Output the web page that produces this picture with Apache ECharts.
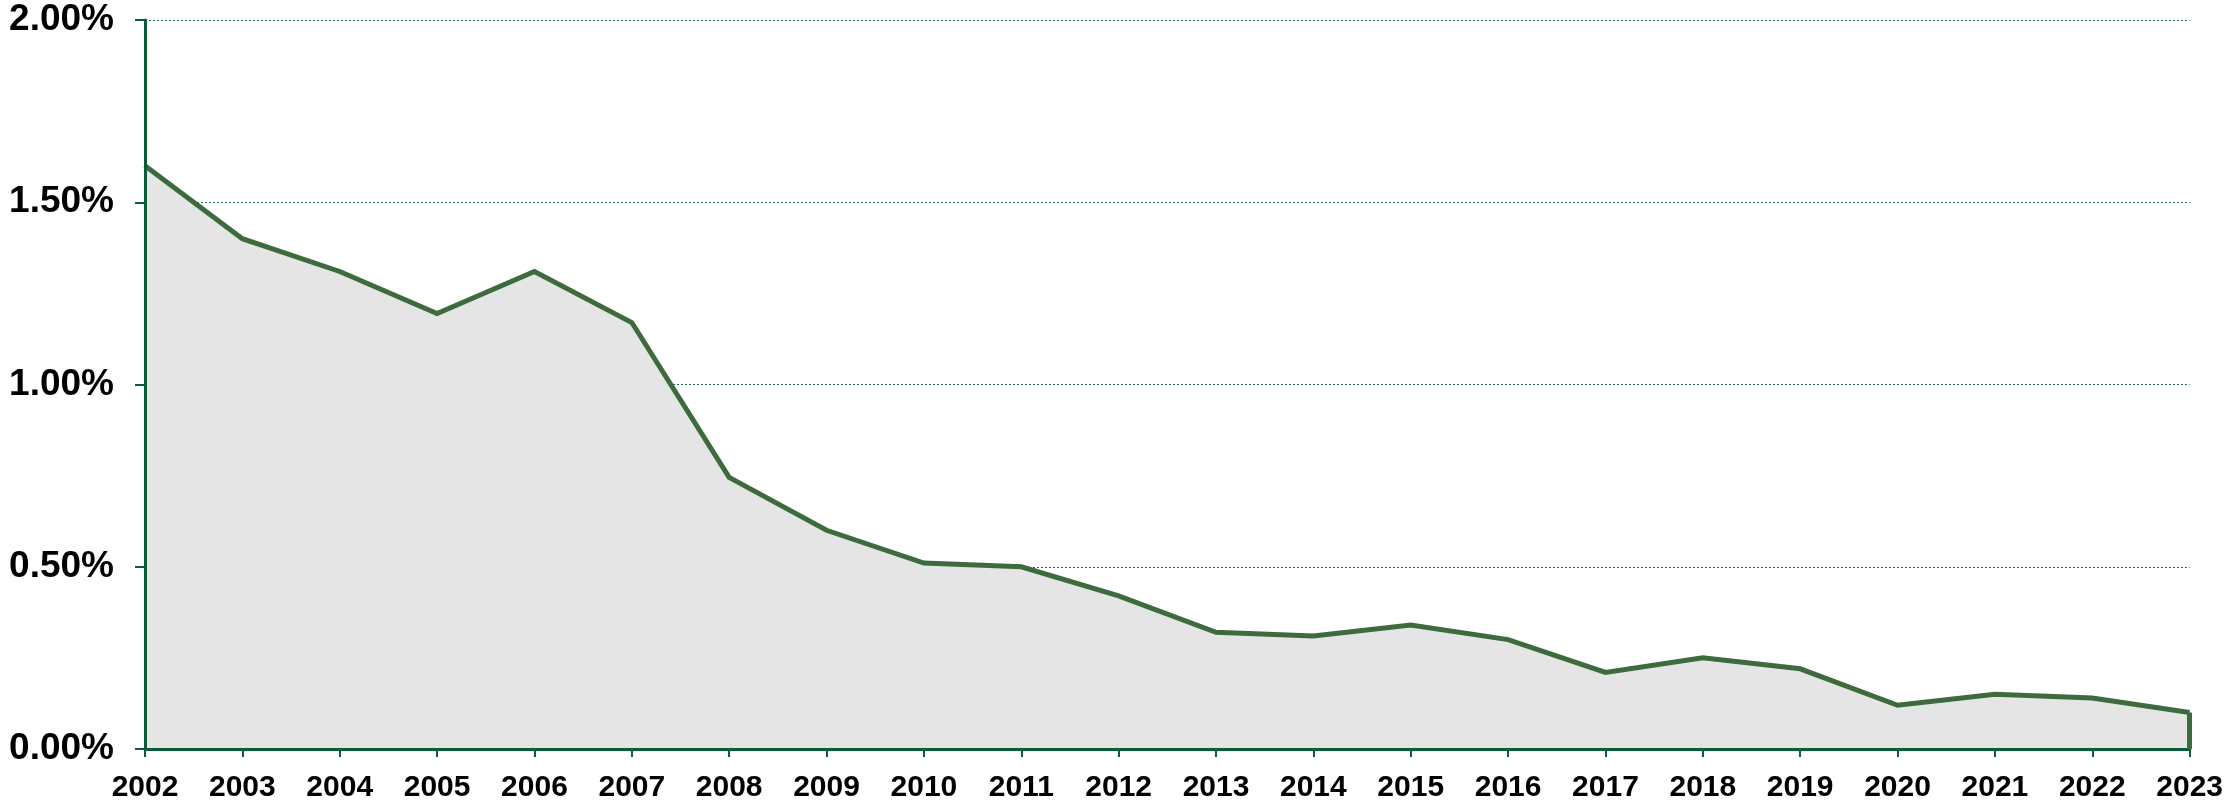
<!DOCTYPE html>
<html>
<head>
<meta charset="utf-8">
<script src="https://cdn.jsdelivr.net/npm/echarts@6/dist/echarts.min.js"></script>
<style>
html,body{margin:0;padding:0;background:#fff;}
#chart{width:2226px;height:803px;}
</style>
</head>
<body>
<div id="chart"></div>
<script>
const years = ['2002','2003','2004','2005','2006','2007','2008','2009','2010','2011','2012','2013','2014','2015','2016','2017','2018','2019','2020','2021','2022','2023'];
const values = [1.60,1.40,1.31,1.195,1.31,1.17,0.745,0.60,0.51,0.50,0.42,0.32,0.31,0.34,0.30,0.21,0.25,0.22,0.12,0.15,0.14,0.10];
const yTicks = [0, 0.5, 1.0, 1.5, 2.0];

const axisColor = '#0b5a38';
const lineColor = '#3d6b3d';
const font = "'Liberation Sans', Arial, sans-serif";

const chart = echarts.init(document.getElementById('chart'), null, {renderer:'canvas'});
chart.setOption({
  animation: false,
  grid: {left:145, right:35, top:20, bottom:54, containLabel:false},
  xAxis: {
    type:'category', data: years, boundaryGap:false, z:3,
    axisLine:{show:true, lineStyle:{color:axisColor, width:3}},
    axisTick:{show:true, length:8, lineStyle:{color:axisColor, width:2}},
    axisLabel:{color:'#000', fontFamily:font, fontWeight:'bold', fontSize:30, margin:24, interval:0},
    splitLine:{show:false}
  },
  yAxis: [{
    type:'value', min:yTicks[0], max:yTicks[yTicks.length-1], interval:0.5, z:3,
    axisLine:{show:true, lineStyle:{color:axisColor, width:3}},
    axisTick:{show:true, length:10, lineStyle:{color:axisColor, width:2}},
    axisLabel:{color:'#000', fontFamily:font, fontWeight:'bold', fontSize:37, margin:31,
      formatter: v => v.toFixed(2) + '%'},
    splitLine:{show:false}
  },{
    type:'value', min:yTicks[0], max:yTicks[yTicks.length-1], interval:0.5, z:0, position:'left',
    axisLine:{show:false}, axisTick:{show:false}, axisLabel:{show:false},
    splitLine:{show:true, lineStyle:{color:'#1f6a4a', width:1, type:[2,2]}}
  }],
  series: [{
    type:'line', data: values, yAxisIndex:0, z:2,
    symbol:'none', smooth:false,
    lineStyle:{color:lineColor, width:5, join:'miter'},
    areaStyle:{color:'#e5e5e5', opacity:1},
    markLine:{
      silent:true, symbol:['none','none'], animation:false,
      label:{show:false},
      lineStyle:{color:lineColor, width:5, type:'solid'},
      data:[[{coord:[years[years.length-1], 0]},{coord:[years[years.length-1], values[values.length-1]]}]]
    }
  }]
});
</script>
</body>
</html>
